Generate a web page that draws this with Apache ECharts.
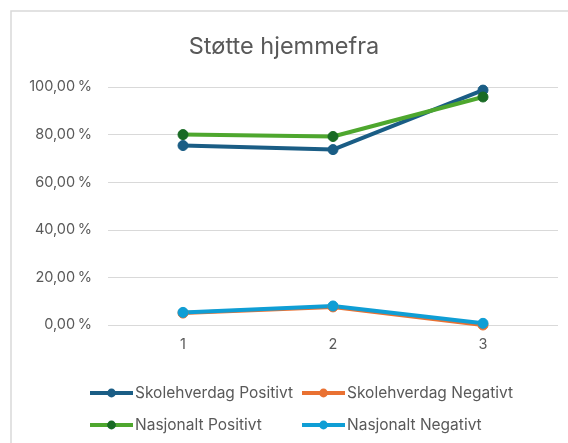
<!DOCTYPE html>
<html>
<head>
<meta charset="utf-8">
<script src="https://cdn.jsdelivr.net/npm/echarts@6/dist/echarts.min.js"></script>
<style>
  html, body { margin: 0; padding: 0; background: #fff; }
  #chart { width: 568px; height: 443px; }
</style>
</head>
<body>
<div id="chart"></div>
<script>
// Survey rounds on the x axis
const categories = ['1', '2', '3'];

// Share of answers (percent)
const skolePositivt = [75.4, 73.7, 98.7];
const skoleNegativt = [5.0, 7.6, 0.0];
const nasjonaltPositivt = [80.0, 79.2, 95.8];
const nasjonaltNegativt = [5.3, 8.0, 0.7];

const yTicks = [0, 20, 40, 60, 80, 100];

const seriesNames = ['Skolehverdag Positivt', 'Skolehverdag Negativt', 'Nasjonalt Positivt', 'Nasjonalt Negativt'];

const font = 'Inter, "Noto Sans", sans-serif';
const textGrey = '#595959';

function series(name, data, lineColor, markerColor) {
  return {
    name: name,
    type: 'line',
    data: data,
    symbol: 'circle',
    symbolSize: 10,
    lineStyle: { color: lineColor, width: 4 },
    itemStyle: { color: markerColor, borderColor: markerColor },
    color: lineColor,
    emphasis: { disabled: true }
  };
}

// one legend block per entry so the two columns line up
const legendSlots = [[88, 385], [300, 385], [88, 417], [300, 417]];
const legends = seriesNames.map((n, i) => ({
  data: [n],
  left: legendSlots[i][0],
  top: legendSlots[i][1],
  padding: 0,
  itemWidth: 43,
  itemHeight: 11,
  lineStyle: { width: 4 },
  textStyle: { color: textGrey, fontFamily: font, fontSize: 15.5, padding: [0, 0, 0, -3] },
  selectedMode: false
}));

const chart = echarts.init(document.getElementById('chart'), null, { renderer: 'canvas' });
chart.setOption({
  animation: false,
  backgroundColor: '#ffffff',
  graphic: [{
    type: 'rect',
    shape: { x: 11, y: 11, width: 600, height: 480 },
    style: { fill: 'none', stroke: '#d9d9d9', lineWidth: 1.5 },
    silent: true,
    z: -1
  }],
  title: {
    text: 'Støtte hjemmefra',
    left: 'center',
    top: 30,
    textStyle: { fontFamily: font, fontSize: 23.5, fontWeight: 'normal', color: textGrey }
  },
  grid: { left: 108, right: 10, top: 87, bottom: 118 },
  xAxis: {
    type: 'category',
    data: categories,
    boundaryGap: true,
    axisLine: { show: false },
    axisTick: { show: false },
    axisLabel: { color: textGrey, fontFamily: font, fontSize: 14.5, margin: 12 }
  },
  yAxis: {
    type: 'value',
    min: yTicks[0],
    max: yTicks[yTicks.length - 1],
    interval: 20,
    axisLine: { show: false },
    axisTick: { show: false },
    splitLine: { lineStyle: { color: '#d9d9d9', width: 1.2 } },
    axisLabel: {
      color: textGrey, fontFamily: font, fontSize: 14.5, margin: 16,
      formatter: v => v.toFixed(2).replace('.', ',') + '\u2009%'
    }
  },
  legend: legends,
  series: [
    series(seriesNames[0], skolePositivt, '#1a5d85', '#1a5d85'),
    series(seriesNames[1], skoleNegativt, '#e97132', '#e97132'),
    series(seriesNames[2], nasjonaltPositivt, '#4ea72e', '#196b24'),
    series(seriesNames[3], nasjonaltNegativt, '#0f9ed5', '#0f9ed5')
  ]
});
</script>
</body>
</html>
